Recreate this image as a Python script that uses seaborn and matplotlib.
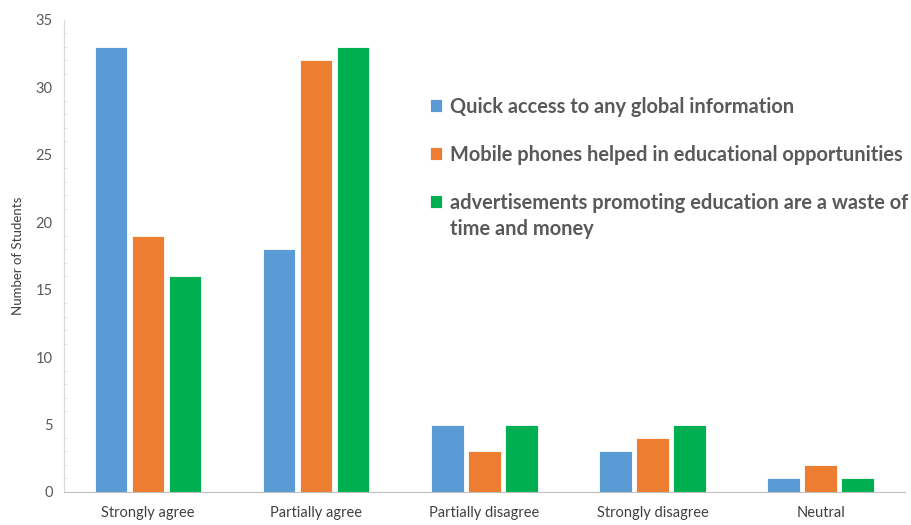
import pandas as pd
import matplotlib.pyplot as plt
from matplotlib.ticker import MultipleLocator
import seaborn as sns

categories = ["Strongly agree", "Partially agree", "Partially disagree", "Strongly disagree", "Neutral"]
series_names = [
    "Quick access to any global information",
    "Mobile phones helped in educational opportunities",
    "advertisements promoting education are a waste of",
]
label_wrap = "time and money"
quick_access = [33, 18, 5, 3, 1]
mobile_helped = [19, 32, 3, 4, 2]
ads_waste = [16, 33, 5, 5, 1]
colors = ["#5B9BD5", "#ED7D31", "#00B050"]

rows = []
for name, vals in zip(series_names, [quick_access, mobile_helped, ads_waste]):
    for cat, v in zip(categories, vals):
        rows.append({"category": cat, "series": name, "students": v})
df = pd.DataFrame(rows)

sns.set_style("white")
plt.rcParams["font.family"] = ["Lato", "DejaVu Sans"]

fig = plt.figure(figsize=(9.12, 5.25), dpi=100)
ax = fig.add_axes([0.070, 0.063, 0.922, 0.899])

sns.barplot(data=df, x="category", y="students", hue="series", order=categories,
            hue_order=series_names, palette=colors, saturation=1, width=0.66, gap=0.12,
            edgecolor="white", linewidth=0.6, ax=ax)

ax.set_xlim(-0.5, 4.5)
ax.set_ylim(0, 35)
ax.yaxis.set_major_locator(MultipleLocator(5))
ax.yaxis.set_minor_locator(MultipleLocator(1))
ax.tick_params(axis="y", which="minor", direction="in", length=2, color="#e0e0e0", left=True)
ax.tick_params(axis="y", which="major", length=0, labelsize=10.5, labelcolor="#595959", pad=8)
ax.tick_params(axis="x", length=0, labelsize=10.5, labelcolor="#404040", pad=10)
ax.set_xlabel("")
ax.set_ylabel("Number of Students", fontsize=9.5, color="#404040", labelpad=8)

for side in ["top", "right"]:
    ax.spines[side].set_visible(False)
ax.spines["left"].set_color("#d9d9d9")
ax.spines["bottom"].set_color("#bfbfbf")

leg = ax.legend(loc="upper left", bbox_to_anchor=(0.435, 0.837), frameon=False,
                prop={"size": 14.4, "weight": "bold"}, labelspacing=1.4,
                borderaxespad=0, borderpad=0,
                handlelength=0.6, handleheight=0.6, handletextpad=0.4)
for t in leg.get_texts():
    t.set_color("#595959")

# second line of the wrapped legend label, placed under the third entry
fig.canvas.draw()
bb = leg.get_texts()[2].get_window_extent()
x0, y0 = fig.transFigure.inverted().transform((bb.x0, bb.y0 - 26))
fig.text(x0, y0, label_wrap, fontsize=14.4, fontweight="bold", color="#595959",
         ha="left", va="bottom")

fig.savefig("out.png", dpi=100)
